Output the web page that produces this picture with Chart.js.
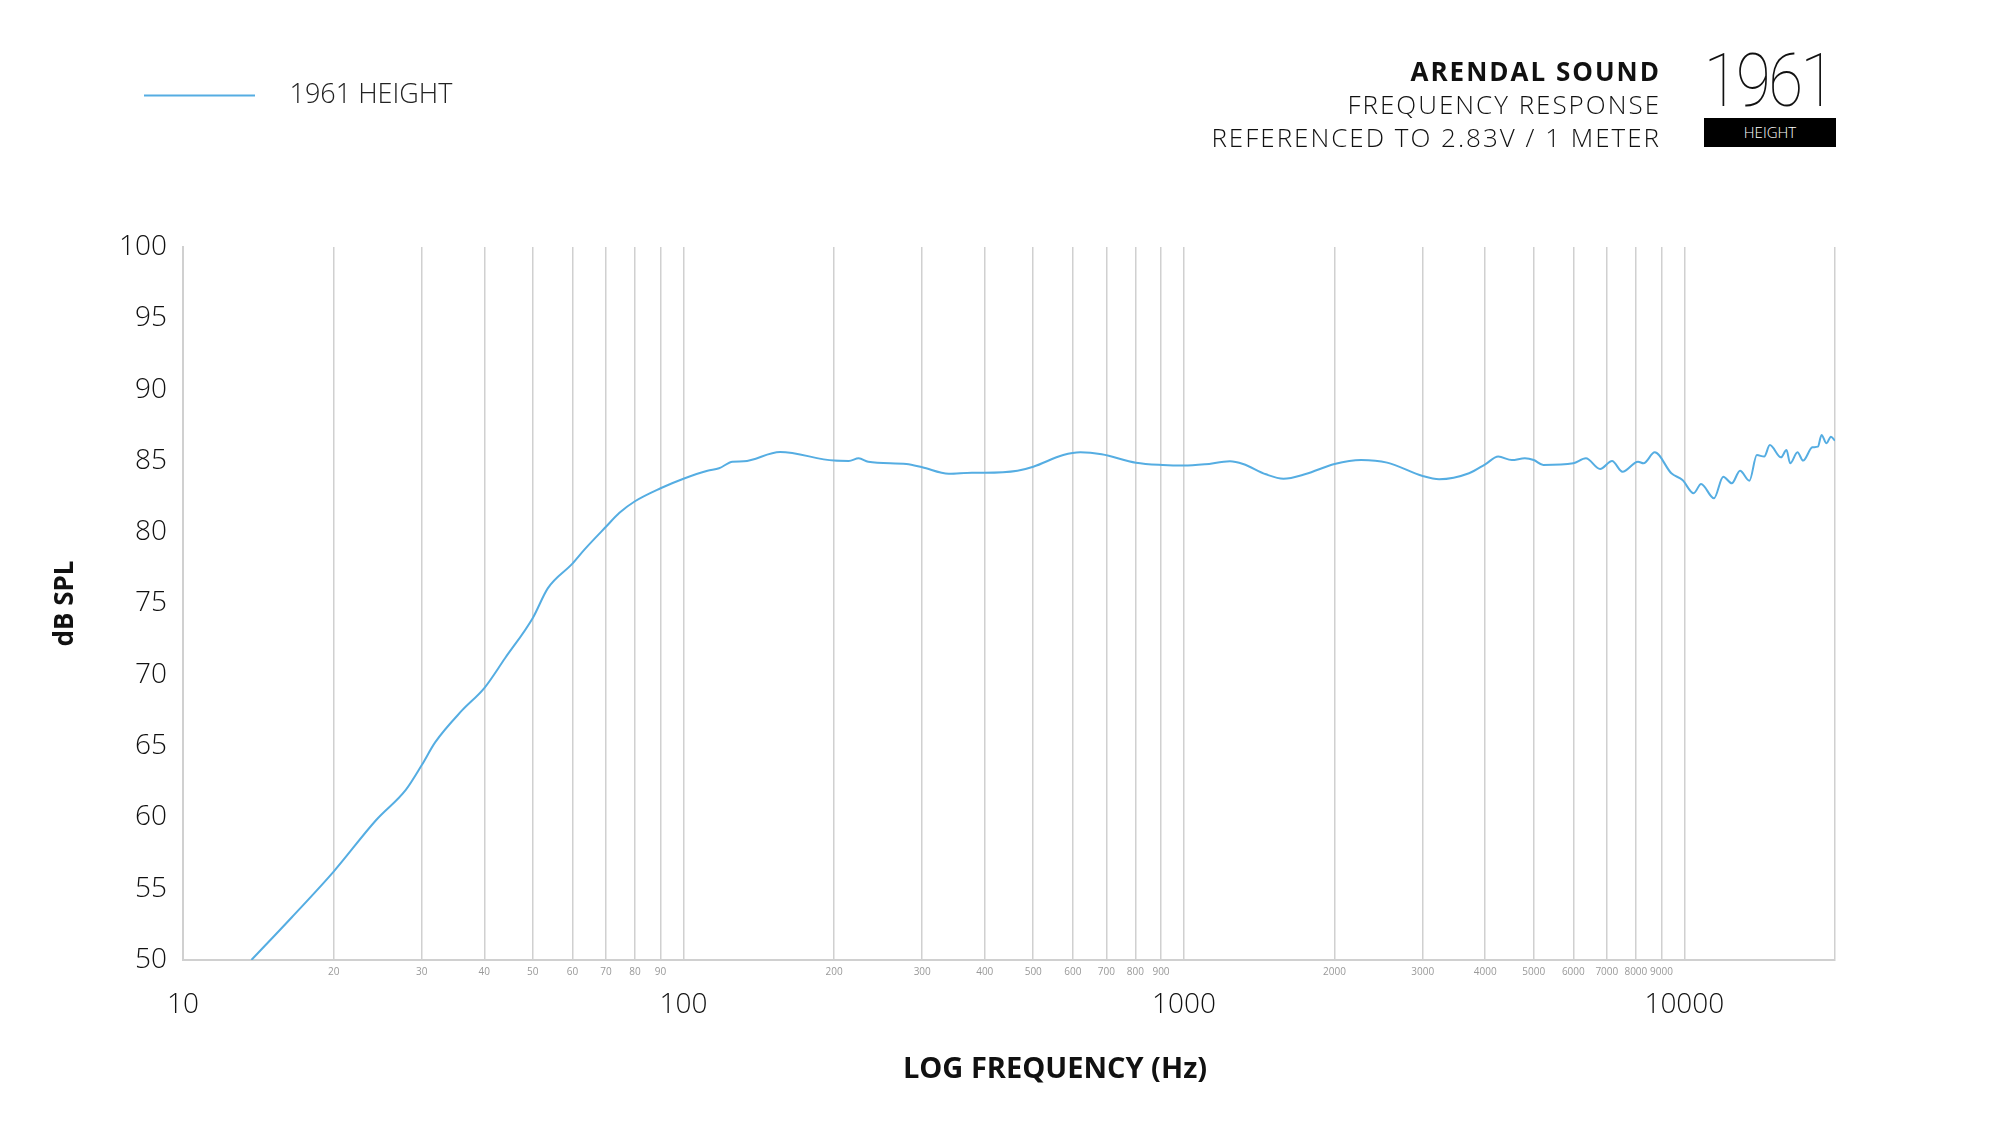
<!DOCTYPE html>
<html>
<head>
<meta charset="utf-8">
<script src="https://cdn.jsdelivr.net/npm/chart.js@4"></script>
<style>
  html, body { margin: 0; padding: 0; background: #fff; }
  #wrap { position: relative; width: 2000px; height: 1127px; }
  #chart { position: absolute; left: 0; top: 0; }
  .heading { position: absolute; right: 339px; top: 55px; text-align: right; letter-spacing: 2px;
    font-family: "Open Sans", sans-serif; font-weight: 300; font-size: 26px; line-height: 33px; color: #111; }
  .heading b { font-weight: 700; }
  .model { position: absolute; left: 1694px; top: 44px; width: 140px; text-align: center; letter-spacing: -3px;
    font-family: Roboto, sans-serif; font-weight: 100; font-size: 74px; line-height: 74px; color: #111;
    transform: scaleX(0.86); transform-origin: 50% 50%; }
  .tag { position: absolute; left: 1704px; top: 118px; width: 132px; height: 29px; background: #000; color: #fff;
    text-align: center; font-family: "Open Sans", sans-serif; font-weight: 300; font-size: 15px; line-height: 29px; }
</style>
</head>
<body>
<div id="wrap">
  <canvas id="chart" width="2000" height="1127"></canvas>
  <div class="heading"><b>ARENDAL SOUND</b><br>FREQUENCY RESPONSE<br>REFERENCED TO 2.83V / 1 METER</div>
  <div class="model">1961</div>
  <div class="tag">HEIGHT</div>
</div>
<script>
const freqHz = [13.7, 16.5, 20, 24.3, 27.9, 30, 31.9, 36.1, 40, 44, 50, 53.6, 60, 63.4, 70, 74.5, 80, 90, 100,
  111.7, 117.8, 125.3, 132, 156, 200, 214, 224, 234, 279, 300, 339, 377, 400, 465, 500, 574, 621, 685, 802, 907,
  1000, 1102, 1236, 1313, 1459, 1581, 1751, 2000, 2260, 2547, 3000, 3236, 3713, 4000, 4248, 4521, 4800, 5000,
  5228, 6000, 6357, 6786, 7170, 7522, 8080, 8287, 8727, 9420, 9915, 10437, 10800, 11460, 11960, 12440, 12920,
  13490, 13960, 14440, 14820, 15600, 16000, 16270, 16830, 17270, 18020, 18490, 18800, 19230, 19630, 20000];
const splDb = [50.0, 53.0, 56.2, 59.8, 61.95, 63.67, 65.26, 67.5, 69.07, 71.16, 73.99, 76.08, 77.8, 78.78, 80.38, 81.36, 82.17, 83.08, 83.75,
  84.31, 84.48, 84.94, 84.97, 85.62, 85.02, 85.0, 85.18, 84.94, 84.78, 84.55, 84.1, 84.17, 84.17, 84.31, 84.59, 85.41, 85.6, 85.46, 84.87, 84.71,
  84.67, 84.76, 84.97, 84.78, 84.06, 83.75, 84.08, 84.78, 85.06, 84.88, 83.94, 83.71, 84.13, 84.76, 85.3, 85.06, 85.18, 85.06,
  84.71, 84.83, 85.18, 84.43, 84.99, 84.24, 84.94, 84.83, 85.6, 84.13, 83.66, 82.73, 83.38, 82.38, 83.89, 83.43, 84.31,
  83.61, 85.41, 85.3, 86.11, 85.25, 85.76, 84.83, 85.6, 85.02, 85.95, 86.0, 86.82, 86.24, 86.7, 86.42];

const majorTicks = [10, 100, 1000, 10000];
const minorTicks = [20, 30, 40, 50, 60, 70, 80, 90, 200, 300, 400, 500, 600, 700, 800, 900,
  2000, 3000, 4000, 5000, 6000, 7000, 8000, 9000];
const gridTicks = majorTicks.concat(minorTicks, [20000]).sort((a, b) => a - b);
const yTicks = [50, 55, 60, 65, 70, 75, 80, 85, 90, 95, 100];

const lineColor = "#55ade2";
const gridColor = "#d0d0d0";
const font = "'Open Sans', sans-serif";

// legend swatch: a short line, left part of a wider box so the label sits further right
const swatch = document.createElement("canvas");
swatch.width = 132; swatch.height = 4;
(function() {
  const c = swatch.getContext("2d");
  c.strokeStyle = lineColor; c.lineWidth = 2;
  c.beginPath(); c.moveTo(0, 2); c.lineTo(111, 2); c.stroke();
})();

// legend sits at the top left, well above the plot; axis title is nudged right like the original
const layoutTweaks = {
  id: "layoutTweaks",
  beforeInit(chart) {
    const fit = chart.legend.fit;
    chart.legend.fit = function() {
      fit.call(this);
      this.height = 175;
    };
  },
  afterLayout(chart) {
    chart.legend.left = 134;
    chart.scales.x2.left += 92;
  }
};

new Chart(document.getElementById("chart"), {
  type: "line",
  data: {
    datasets: [{
      label: "1961 HEIGHT",
      data: freqHz.map((f, i) => ({ x: f, y: splDb[i] })),
      borderColor: lineColor,
      backgroundColor: lineColor,
      borderWidth: 2,
      pointRadius: 0,
      pointStyle: swatch,
      cubicInterpolationMode: "monotone",
      fill: false,
      xAxisID: "x",
      yAxisID: "y"
    }]
  },
  options: {
    responsive: false,
    animation: false,
    layout: { padding: { left: 0, right: 165, top: 72, bottom: 0 } },
    plugins: {
      tooltip: { enabled: false },
      legend: {
        position: "top",
        align: "start",
        labels: {
          usePointStyle: true,
          pointStyleWidth: 132,
          padding: 10,
          color: "#222",
          font: { family: font, size: 27, weight: 300 }
        }
      }
    },
    scales: {
      x: {
        type: "logarithmic",
        min: 10, max: 20000,
        position: "bottom",
        weight: 0,
        afterBuildTicks: s => { s.ticks = gridTicks.map(v => ({ value: v })); },
        afterFit: s => { s.height = 20; },
        grid: { color: gridColor, lineWidth: 1.5, drawTicks: false },
        border: { color: gridColor, width: 2 },
        ticks: {
          autoSkip: false, maxRotation: 0, padding: 6, color: "#999",
          font: { family: font, size: 10 },
          callback: v => minorTicks.includes(v) ? String(v) : ""
        }
      },
      x2: {
        type: "logarithmic",
        min: 10, max: 20000,
        position: "bottom",
        weight: 1,
        afterBuildTicks: s => { s.ticks = majorTicks.map(v => ({ value: v })); },
        afterFit: s => { s.height = 147; },
        grid: { display: false, drawTicks: false },
        border: { display: false },
        ticks: {
          autoSkip: false, maxRotation: 0, padding: 8, color: "#111",
          font: { family: font, size: 28, weight: 300 },
          callback: v => String(v)
        },
        title: {
          display: true, text: "LOG FREQUENCY (Hz)", color: "#111",
          font: { family: font, size: 29, weight: "bold" },
          padding: { top: 0, bottom: 40 }
        }
      },
      y: {
        min: 50, max: 100,
        position: "left",
        afterBuildTicks: s => { s.ticks = yTicks.map(v => ({ value: v })); },
        afterFit: s => { s.width = 183; },
        grid: { drawOnChartArea: false, drawTicks: false, color: gridColor },
        border: { color: gridColor, width: 2 },
        ticks: { padding: 16, color: "#111", font: { family: font, size: 28, weight: 300 } },
        title: {
          display: true, text: "dB SPL", color: "#111",
          font: { family: font, size: 26, weight: "bold" },
          padding: { top: 50, bottom: 0 }
        }
      }
    }
  },
  plugins: [layoutTweaks]
});
</script>
</body>
</html>
